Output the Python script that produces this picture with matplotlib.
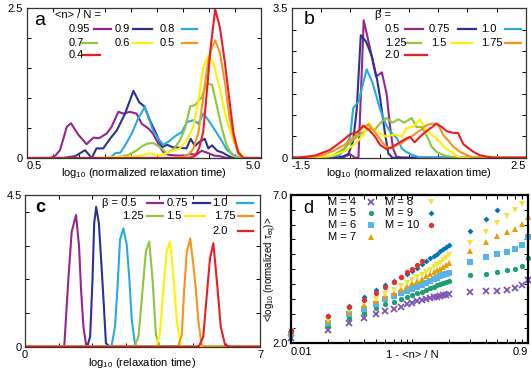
import numpy as np
import matplotlib
matplotlib.use('Agg')
import matplotlib.pyplot as plt

plt.rcParams['font.family'] = ['Liberation Sans', 'DejaVu Sans']
plt.rcParams['mathtext.fontset'] = 'custom'
plt.rcParams['mathtext.rm'] = 'Liberation Sans'
plt.rcParams['mathtext.it'] = 'Liberation Sans:italic'
plt.rcParams['mathtext.default'] = 'regular'

line_colors = ['#92278f', '#2e3192', '#27aae1', '#8dc63f', '#fff200', '#f7941d', '#ed1c24']

# ---- panel a : <n>/N series
labels_a = ['0.95', '0.9', '0.8', '0.7', '0.6', '0.5', '0.4']
x_a_095 = [0.5, 0.95, 1.05, 1.14, 1.27, 1.35, 1.49, 1.65, 1.78, 1.89, 2.04, 2.13, 2.26, 2.36, 2.48, 2.61, 2.71, 2.84,
           2.93, 3.06, 3.14, 3.25, 3.4, 3.55, 3.65, 3.75, 3.86, 3.99, 4.1, 4.21, 4.34, 5.0]
y_a_095 = [0, 0, 0.04, 0.13, 0.52, 0.58, 0.39, 0.23, 0.34, 0.33, 0.41, 0.52, 0.77, 0.74, 0.77, 0.74, 0.57, 0.49,
           0.40, 0.18, 0.08, 0.05, 0.04, 0.04, 0.07, 0.05, 0.12, 0.08, 0.04, 0.03, 0, 0]
x_a_09 = [0.5, 1.2, 1.43, 1.62, 1.75, 1.84, 1.97, 2.1, 2.23, 2.39, 2.55, 2.66, 2.76, 2.87, 3.0, 3.1, 3.2, 3.3, 3.45,
          3.57, 3.65, 3.73, 3.82, 3.92, 3.99, 4.06, 4.16, 4.26, 4.36, 4.46, 5.0]
y_a_09 = [0, 0, 0.03, 0.13, 0.0, 0.16, 0.16, 0.32, 0.46, 0.74, 1.12, 0.93, 0.86, 0.62, 0.38, 0.18, 0.22, 0.18, 0.17,
          0.16, 0.32, 0.2, 0.27, 0.32, 0.16, 0.21, 0.12, 0.09, 0.04, 0.0, 0]
x_a_08 = [0.5, 2.1, 2.2, 2.3, 2.39, 2.52, 2.64, 2.77, 2.84, 2.93, 3.03, 3.12, 3.22, 3.3, 3.38, 3.48, 3.58, 3.7, 3.8,
          3.89, 3.99, 4.12, 4.25, 4.34, 4.47, 4.6, 5.0]
y_a_08 = [0, 0, 0.08, 0.09, 0.21, 0.41, 0.66, 0.85, 0.68, 0.45, 0.32, 0.22, 0.27, 0.33, 0.38, 0.43, 0.6, 0.63, 0.57,
          0.74, 0.63, 0.46, 0.28, 0.14, 0.05, 0.0, 0]
x_a_07 = [0.5, 1.9, 2.2, 2.45, 2.6, 2.72, 2.82, 2.93, 3.06, 3.19, 3.32, 3.44, 3.54, 3.64, 3.73, 3.86, 3.93, 3.99,
          4.06, 4.15, 4.25, 4.34, 4.45, 4.55, 5.0]
y_a_07 = [0, 0, 0.01, 0.05, 0.12, 0.2, 0.24, 0.25, 0.18, 0.08, 0.14, 0.29, 0.49, 0.86, 0.88, 1.01, 1.18, 1.24,
          1.22, 0.88, 0.49, 0.21, 0.05, 0.0, 0]
x_a_06 = [0.5, 2.0, 2.23, 2.5, 2.68, 2.87, 3.0, 3.12, 3.25, 3.44, 3.57, 3.7, 3.8, 3.89, 3.99, 4.09, 4.21, 4.34, 4.47,
          4.6, 4.69, 5.0]
y_a_06 = [0, 0, 0.02, 0.02, 0.04, 0.08, 0.04, 0.06, 0.1, 0.16, 0.29, 0.52, 0.96, 1.51, 1.71, 1.57, 1.15, 0.63, 0.29,
          0.07, 0, 0]
x_a_05 = [0.5, 3.3, 3.5, 3.6, 3.7, 3.8, 3.86, 3.92, 3.99, 4.06, 4.12, 4.21, 4.31, 4.39, 4.47, 4.56, 4.66, 5.0]
y_a_05 = [0, 0, 0.02, 0.05, 0.15, 0.43, 0.82, 1.21, 1.63, 1.85, 1.96, 1.76, 1.24, 0.71, 0.35, 0.07, 0.0, 0]
x_a_04 = [0.5, 3.6, 3.73, 3.81, 3.89, 3.96, 4.03, 4.12, 4.21, 4.31, 4.39, 4.47, 4.56, 4.66, 5.0]
y_a_04 = [0, 0, 0.03, 0.16, 0.43, 1.10, 1.82, 2.48, 2.18, 1.57, 0.99, 0.43, 0.10, 0.0, 0]

# ---- panel b : beta series (normalized)
labels_beta = ['0.5', '0.75', '1.0', '1.25', '1.5', '1.75', '2.0']
x_b_050 = [-1.5, -0.75, -0.6, -0.5, -0.42, -0.36, -0.27, -0.16, -0.06, 0.04, 0.12, 0.18, 0.23, 0.29, 0.4, 2.5]
y_b_050 = [0, 0, 0.02, 0.08, 0.0, 0.0, 3.22, 2.55, 1.9, 2.0, 1.5, 0.73, 0.22, 0.02, 0, 0]
x_b_075 = [-1.5, -0.8, -0.62, -0.53, -0.45, -0.39, -0.32, -0.23, -0.13, -0.04, 0.01, 0.09, 0.15, 0.22, 2.5]
y_b_075 = [0, 0, 0.03, 0.09, 0.4, 1.12, 2.87, 2.72, 2.37, 1.82, 1.4, 0.6, 0.1, 0, 0]
x_b_100 = [-1.5, -1.0, -0.7, -0.6, -0.5, -0.45, -0.36, -0.22, -0.12, 0.0, 0.1, 0.18, 0.3, 0.38, 0.45, 0.55, 0.7, 2.5]
y_b_100 = [0, 0, 0.05, 0.18, 0.5, 1.16, 1.31, 2.07, 1.76, 1.18, 0.8, 0.62, 0.45, 0.22, 0.14, 0.07, 0.0, 0]
x_b_125 = [-1.5, -1.0, -0.8, -0.6, -0.45, -0.3, -0.18, -0.08, 0.04, 0.12, 0.22, 0.32, 0.42, 0.55, 0.63, 0.72, 0.8,
           0.89, 0.97, 1.09, 1.2, 1.3, 2.5]
y_b_125 = [0, 0, 0.05, 0.22, 0.42, 0.58, 0.68, 0.66, 0.85, 0.93, 0.82, 0.9, 0.82, 0.93, 0.72, 0.72, 0.53,
           0.26, 0.14, 0.06, 0.03, 0, 0]
x_b_150 = [-1.5, -1.1, -0.8, -0.6, -0.4, -0.28, -0.18, -0.08, 0.04, 0.12, 0.25, 0.38, 0.46, 0.58, 0.69, 0.77, 0.86,
           0.95, 1.03, 1.12, 1.2, 1.29, 1.38, 2.5]
y_b_150 = [0, 0, 0.05, 0.15, 0.34, 0.53, 0.81, 0.62, 0.55, 0.49, 0.55, 0.49, 0.69, 0.73, 0.90, 0.69, 0.57,
           0.47, 0.37, 0.22, 0.16, 0.06, 0, 0]
x_b_175 = [-1.5, -1.3, -1.0, -0.8, -0.6, -0.42, -0.28, -0.19, -0.08, 0.04, 0.12, 0.2, 0.29, 0.38, 0.46, 0.58, 0.69,
           0.8, 0.9, 1.0, 1.09, 1.17, 1.26, 1.37, 1.49, 1.6, 2.5]
y_b_175 = [0, 0, 0.05, 0.15, 0.3, 0.5, 0.72, 0.78, 0.6, 0.37, 0.26, 0.22, 0.30, 0.34, 0.43, 0.53, 0.64,
           0.76, 0.8, 0.77, 0.53, 0.41, 0.26, 0.14, 0.06, 0, 0]
x_b_200 = [-1.5, -1.4, -1.1, -0.85, -0.65, -0.5, -0.38, -0.28, -0.18, -0.08, 0.01, 0.12, 0.22, 0.32, 0.42, 0.52,
           0.6, 0.69, 0.8, 0.9, 0.97, 1.06, 1.15, 1.26, 1.34, 1.43, 1.52, 1.6, 1.71, 1.85, 1.95, 2.5]
y_b_200 = [0, 0, 0.05, 0.18, 0.38, 0.55, 0.6, 0.75, 0.65, 0.5, 0.3, 0.2, 0.25, 0.34, 0.42, 0.49,
           0.36, 0.49, 0.62, 0.72, 0.8, 0.72, 0.62, 0.58, 0.58, 0.32, 0.22, 0.14, 0.06, 0.02, 0, 0]

# ---- panel c : beta series (raw relaxation time)
x_c_050 = [0, 1.08, 1.17, 1.29, 1.39, 1.52, 1.61, 1.67, 1.74, 1.82, 1.9, 7]
y_c_050 = [0, 0, 0.03, 1.98, 3.41, 3.91, 2.97, 1.68, 0.59, 0.05, 0, 0]
x_c_075 = [0, 1.78, 1.86, 1.94, 2.01, 2.06, 2.12, 2.2, 2.28, 2.35, 2.41, 2.53, 7]
y_c_075 = [0, 0, 0.03, 0.3, 1.98, 3.66, 4.15, 3.66, 2.37, 1.19, 0.1, 0, 0]
x_c_100 = [0, 2.5, 2.58, 2.68, 2.75, 2.83, 2.93, 3.03, 3.11, 3.18, 3.28, 3.38, 7]
y_c_100 = [0, 0, 0.03, 0.59, 1.68, 3.17, 3.51, 3.02, 1.98, 0.79, 0.05, 0, 0]
x_c_125 = [0, 3.2, 3.28, 3.38, 3.5, 3.6, 3.7, 3.8, 3.9, 4.0, 4.1, 7]
y_c_125 = [0, 0, 0.05, 0.3, 1.68, 2.82, 3.12, 1.98, 0.35, 0.03, 0, 0]
x_c_150 = [0, 3.85, 3.92, 4.02, 4.12, 4.22, 4.32, 4.42, 4.52, 4.62, 4.7, 7]
y_c_150 = [0, 0, 0.03, 0.4, 1.68, 2.82, 3.12, 2.08, 0.79, 0.1, 0, 0]
x_c_175 = [0, 4.5, 4.57, 4.67, 4.74, 4.82, 4.92, 5.01, 5.09, 5.16, 5.26, 5.36, 7]
y_c_175 = [0, 0, 0.03, 0.35, 1.68, 2.82, 3.21, 2.47, 1.68, 0.79, 0.05, 0, 0]
x_c_200 = [0, 5.1, 5.19, 5.31, 5.41, 5.51, 5.61, 5.73, 5.83, 5.96, 6.1, 7]
y_c_200 = [0, 0, 0.03, 0.3, 1.48, 2.62, 3.07, 1.78, 0.59, 0.05, 0, 0]

# ---- panel d : mean log10 tau_eq vs 1 - <n>/N
x_mid = [0.01, 0.02, 0.03, 0.04, 0.05, 0.06, 0.07, 0.08, 0.09, 0.10,
         0.11, 0.12, 0.13, 0.14, 0.15, 0.16, 0.17, 0.18, 0.19, 0.20]
x_right = [0.3, 0.4, 0.5, 0.6, 0.7, 0.8, 0.9]
tau_m4_mid = [2.19, 2.46, 2.69, 2.86, 2.98, 3.08, 3.16, 3.23, 3.31, 3.36,
              3.41, 3.45, 3.49, 3.52, 3.55, 3.57, 3.60, 3.62, 3.64, 3.66]
tau_m4_right = [3.73, 3.75, 3.78, 3.81, 3.86, 3.96, 4.15]
tau_m5_mid = [2.27, 2.60, 2.86, 3.02, 3.18, 3.31, 3.40, 3.48, 3.55, 3.62,
              3.68, 3.74, 3.80, 3.86, 3.91, 3.96, 4.00, 4.04, 4.07, 4.10]
tau_m5_right = [4.29, 4.35, 4.42, 4.47, 4.52, 4.62, 4.86]
tau_m6_mid = [2.33, 2.69, 2.98, 3.15, 3.34, 3.49, 3.58, 3.70, 3.77, 3.84,
              3.91, 3.98, 4.04, 4.10, 4.16, 4.21, 4.26, 4.30, 4.34, 4.38]
tau_m6_right = [4.73, 4.90, 5.01, 5.08, 5.19, 5.32, 5.57]
tau_m7_mid = [2.38, 2.76, 3.05, 3.30, 3.42, 3.58, 3.70, 3.82, 3.92, 4.02,
              4.10, 4.18, 4.26, 4.33, 4.40, 4.46, 4.52, 4.58, 4.64, 4.70]
tau_m7_right = [5.11, 5.40, 5.61, 5.74, 5.85, 6.01, 6.27]
tau_m8_mid = [2.40, 2.80, 3.11, 3.38, 3.50, 3.67, 3.80, 3.92, 4.02, 4.12,
              4.22, 4.31, 4.40, 4.48, 4.56, 4.64, 4.72, 4.80, 4.88, 4.97]
tau_m8_right = [5.37, 5.76, 6.04, 6.30, 6.49, 6.70]
tau_m9_mid = [2.45, 2.93, 3.27, 3.55, 3.80, 3.98, 4.10, 4.22, 4.33, 4.44,
              4.55, 4.66, 4.78, 4.86, 4.94, 5.02, 5.10, 5.18, 5.24, 5.30]
tau_m9_right = [5.79, 6.18, 6.49]
tau_m10_mid = [2.42, 2.91, 3.23, 3.47, 3.71, 3.90, 4.07, 4.24, 4.39, 4.50, 4.64, 4.78]
tau_m10_right = []

m_labels = ['M = 4', 'M = 5', 'M = 6', 'M = 7', 'M = 8', 'M = 9', 'M = 10']
m_colors = ['#7d55b0', '#1f9e74', '#56b4e9', '#e69f00', '#f0e442', '#0072b2', '#e8302a']
m_markers = ['x', 'o', 's', '^', 'v', 'D', 'o']
m_sizes = [4.2, 3.8, 4.2, 3.8, 3.8, 3.0, 3.8]


def frame(ax, xlim, ylim, xlabels, ylabels, xminor, yminor, edge=True, spine_w=0.9, spine_c='#333333'):
    ax.set_xlim(xlim)
    ax.set_ylim(ylim)
    ax.set_xticks(xlim)
    ax.set_xticklabels(xlabels)
    ax.set_yticks(ylim)
    ax.set_yticklabels(ylabels)
    ax.set_xticks(xminor, minor=True)
    ax.set_yticks(yminor, minor=True)
    ax.set_xticklabels([], minor=True)
    ax.tick_params(which='both', direction='in', top=True, right=True, labelsize=8, pad=2.5)
    ax.tick_params(which='major', length=0)
    ax.tick_params(which='minor', length=3, width=0.7)
    for s in ax.spines.values():
        s.set_linewidth(spine_w)
        s.set_color(spine_c)
    if edge:
        lab = ax.get_xticklabels()
        lab[0].set_ha('left')
        lab[-1].set_ha('right')


def key_line(ax, tx, y, text, x0, x1, color, ha='left'):
    ax.text(tx, y, text, transform=ax.transAxes, ha=ha, va='center', fontsize=8)
    ax.plot([x0, x1], [y, y], color=color, lw=1.6, transform=ax.transAxes, clip_on=False)


fig = plt.figure(figsize=(5.31, 3.73), dpi=100)
ax_a = fig.add_axes([0.0503, 0.5764, 0.4412, 0.4021])
ax_b = fig.add_axes([0.5493, 0.5772, 0.4412, 0.4005])
ax_c = fig.add_axes([0.0471, 0.0705, 0.4426, 0.4067])
ax_d = fig.add_axes([0.548, 0.0796, 0.4469, 0.3976])

# panel a
curves_a = [(x_a_095, y_a_095), (x_a_09, y_a_09), (x_a_08, y_a_08), (x_a_07, y_a_07),
            (x_a_06, y_a_06), (x_a_05, y_a_05), (x_a_04, y_a_04)]
for (xs, ys), c in zip(curves_a, line_colors):
    ax_a.plot(xs, ys, color=c, lw=1.5)
frame(ax_a, [0.5, 5.0], [0, 2.5], ['0.5', '5.0'], ['0', '2.5'],
      np.arange(1.0, 4.6, 0.5), np.arange(0.5, 2.1, 0.5))
ax_a.set_xlabel('log$_{10}$ (normalized relaxation time)', fontsize=8)
ax_a.xaxis.set_label_coords(0.5, -0.055)
ax_a.text(0.03, 0.89, 'a', transform=ax_a.transAxes, fontsize=14)
ax_a.text(0.121, 0.953, '<n> / N =', transform=ax_a.transAxes, va='center', fontsize=8)
key_a = [(0.178, 0.858, 0.287, 0.358), (0.377, 0.858, 0.455, 0.533), (0.569, 0.858, 0.661, 0.728),
         (0.178, 0.769, 0.235, 0.299), (0.377, 0.769, 0.455, 0.533), (0.569, 0.769, 0.661, 0.728),
         (0.178, 0.687, 0.242, 0.313)]
for (tx, ty, x0, x1), lab, c in zip(key_a, labels_a, line_colors):
    key_line(ax_a, tx, ty, lab, x0, x1, c)

# panel b
curves_b = [(x_b_050, y_b_050), (x_b_075, y_b_075), (x_b_100, y_b_100), (x_b_125, y_b_125),
            (x_b_150, y_b_150), (x_b_175, y_b_175), (x_b_200, y_b_200)]
for (xs, ys), c in zip(curves_b, line_colors):
    ax_b.plot(xs, ys, color=c, lw=1.5)
frame(ax_b, [-1.5, 2.5], [0, 3.5], ['-1.5', '2.5'], ['0', '3.5'],
      np.arange(-1.0, 2.1, 0.5), np.arange(0.5, 3.1, 0.5))
ax_b.set_xlabel('log$_{10}$ (normalized relaxation time)', fontsize=8)
ax_b.xaxis.set_label_coords(0.5, -0.055)
ax_b.text(0.05, 0.895, 'b', transform=ax_b.transAxes, fontsize=14)
ax_b.text(0.356, 0.955, 'β =', transform=ax_b.transAxes, va='center', fontsize=8)
key_b = [(0.398, 0.859, 0.484, 0.562), (0.583, 0.859, 0.708, 0.785), (0.808, 0.859, 0.910, 0.979),
         (0.398, 0.770, 0.484, 0.55), (0.597, 0.770, 0.683, 0.768), (0.810, 0.770, 0.910, 0.979),
         (0.398, 0.687, 0.484, 0.576)]
for (tx, ty, x0, x1), lab, c in zip(key_b, labels_beta, line_colors):
    key_line(ax_b, tx, ty, lab, x0, x1, c)

# panel c
curves_c = [(x_c_050, y_c_050), (x_c_075, y_c_075), (x_c_100, y_c_100), (x_c_125, y_c_125),
            (x_c_150, y_c_150), (x_c_175, y_c_175), (x_c_200, y_c_200)]
for (xs, ys), c in zip(curves_c, line_colors):
    ax_c.plot(xs, ys, color=c, lw=1.5)
frame(ax_c, [0, 7], [0, 4.5], ['0', '7'], ['0', '4.5'],
      np.arange(1, 7, 1), np.arange(1, 4.1, 1), edge=False)
ax_c.set_xlabel('log$_{10}$ (relaxation time)', fontsize=8)
ax_c.xaxis.set_label_coords(0.5, -0.06)
ax_c.text(0.043, 0.89, 'c', transform=ax_c.transAxes, fontsize=13, fontweight='bold')
key_c = [(0.475, 0.949, 0.518, 0.589), (0.695, 0.949, 0.714, 0.787), (0.862, 0.949, 0.903, 0.971),
         (0.503, 0.862, 0.518, 0.589), (0.667, 0.862, 0.681, 0.766), (0.894, 0.862, 0.907, 0.971),
         (0.865, 0.765, 0.907, 0.971)]
labels_c = ['β = ' + labels_beta[0]] + labels_beta[1:]
for (tx, ty, x0, x1), lab, c in zip(key_c, labels_c, line_colors):
    key_line(ax_c, tx, ty, lab, x0, x1, c, ha='right')

# panel d
mid_sets = [tau_m4_mid, tau_m5_mid, tau_m6_mid, tau_m7_mid, tau_m8_mid, tau_m9_mid, tau_m10_mid]
right_sets = [tau_m4_right, tau_m5_right, tau_m6_right, tau_m7_right, tau_m8_right, tau_m9_right, tau_m10_right]
for mid, right, c, mk, ms in zip(mid_sets, right_sets, m_colors, m_markers, m_sizes):
    xs = x_mid[:len(mid)] + x_right[:len(right)]
    ys = mid + right
    mew = 1.3 if mk == 'x' else 0
    ax_d.plot(xs, ys, ls='none', marker=mk, ms=ms, color=c, mew=mew, clip_on=False)
ax_d.set_xscale('log')
xminor_d = [0.02, 0.03, 0.04, 0.05, 0.06, 0.07, 0.08, 0.09, 0.1, 0.2, 0.3, 0.4, 0.5, 0.6, 0.7, 0.8]
frame(ax_d, [0.01, 0.9], [2.0, 7.0], ['0.01', '0.9'], ['2.0', '7.0'],
      xminor_d, np.arange(2.5, 6.6, 0.5), spine_w=1.6, spine_c='black')
ax_d.set_xlabel('1 - <n> / N', fontsize=8)
ax_d.xaxis.set_label_coords(0.51, -0.045)
ax_d.set_ylabel('<log$_{10}$ (normalized τ$_{eq}$)>', fontsize=7)
ax_d.yaxis.set_label_coords(-0.05, 0.5)
ax_d.text(0.052, 0.877, 'd', transform=ax_d.transAxes, fontsize=13)
key_d = [(0.157, 0.955, 0.338), (0.157, 0.877, 0.338), (0.157, 0.798, 0.338), (0.157, 0.715, 0.338),
         (0.397, 0.955, 0.589), (0.397, 0.877, 0.589), (0.397, 0.798, 0.589)]
for (tx, ty, mx), lab, c, mk, ms in zip(key_d, m_labels, m_colors, m_markers, m_sizes):
    ax_d.text(tx, ty, lab, transform=ax_d.transAxes, va='center', fontsize=8)
    ax_d.plot([mx], [ty], ls='none', marker=mk, ms=ms, color=c, mew=1.3 if mk == 'x' else 0,
              transform=ax_d.transAxes, clip_on=False)

fig.savefig('out.png', dpi=100)
